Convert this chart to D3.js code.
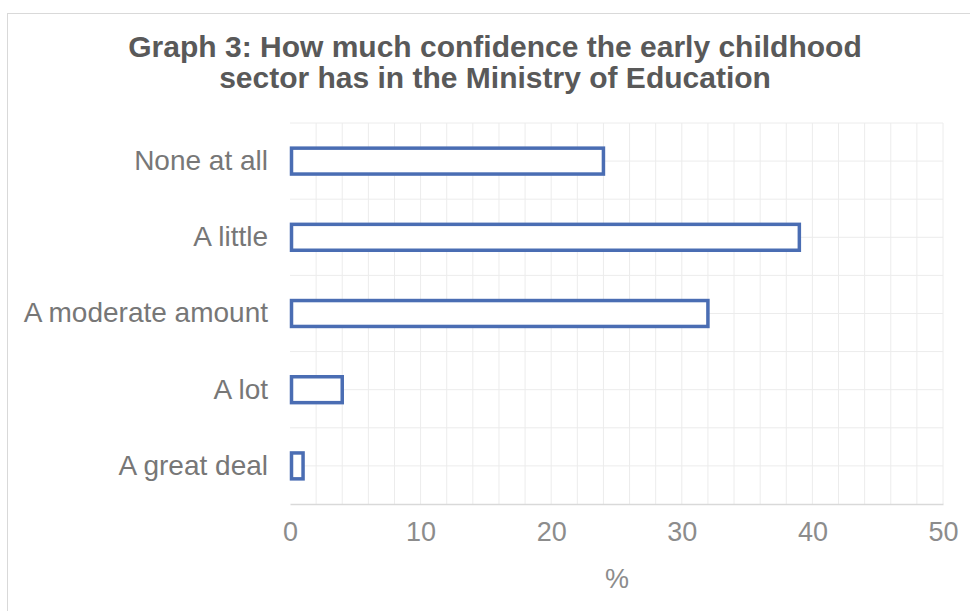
<!DOCTYPE html>
<html>
<head>
<meta charset="utf-8">
<script src="https://cdn.jsdelivr.net/npm/d3@7"></script>
<style>
  body { margin: 0; background: #fff; }
  text { font-family: "Liberation Sans", Arial, sans-serif; }
</style>
</head>
<body>
<svg id="chart" width="970" height="611"></svg>
<script>
// data
const categories = ['None at all', 'A little', 'A moderate amount', 'A lot', 'A great deal'];
const values = [24, 39, 32, 4, 1];
const xTicks = [0, 10, 20, 30, 40, 50];
const titleLines = ['Graph 3:  How much confidence the early childhood', 'sector has in the Ministry of Education'];

const svg = d3.select('#chart');
const margin = {top: 123, right: 27, bottom: 107, left: 290};
const width = 970 - margin.left - margin.right;
const height = 611 - margin.top - margin.bottom;

// outer frame of the chart
svg.append('rect')
    .attr('x', 7.5).attr('y', 13.5)
    .attr('width', 980).attr('height', 620)
    .attr('fill', '#fff')
    .attr('stroke', '#d9d9d9');

const x = d3.scaleLinear().domain([0, 50]).range([0, width]);
const y = d3.scaleBand().domain(categories).range([0, height]).paddingInner(0.66).paddingOuter(0.33);

const g = svg.append('g').attr('transform', `translate(${margin.left},${margin.top})`);

// vertical gridlines every 2
g.append('g').selectAll('line')
    .data(d3.range(2, 51, 2))
    .enter().append('line')
    .attr('x1', d => x(d)).attr('x2', d => x(d))
    .attr('y1', 0).attr('y2', height)
    .attr('stroke', '#ececec');

// horizontal gridlines at band edges and centres
const step = height / categories.length;
g.append('g').selectAll('line')
    .data(d3.range(0, categories.length * 2))
    .enter().append('line')
    .attr('x1', 0).attr('x2', width)
    .attr('y1', d => d * step / 2).attr('y2', d => d * step / 2)
    .attr('stroke', '#ececec');

// bars
g.append('g').selectAll('rect')
    .data(values)
    .enter().append('rect')
    .attr('x', 1.5)
    .attr('y', (d, i) => y(categories[i]))
    .attr('width', d => x(d) - 1.5)
    .attr('height', y.bandwidth())
    .attr('fill', '#fff')
    .attr('stroke', '#4a6db3')
    .attr('stroke-width', 3.5);

// x axis
const xAxis = g.append('g')
    .attr('transform', `translate(0,${height})`)
    .call(d3.axisBottom(x).tickValues(xTicks).tickSize(0).tickPadding(18));
xAxis.select('.domain').attr('stroke', '#d9d9d9').attr('stroke-width', 1.5);
xAxis.selectAll('text')
    .attr('fill', '#8c8c8c')
    .style('font-size', '27px');

// y axis labels
const yAxis = g.append('g')
    .call(d3.axisLeft(y).tickSize(0).tickPadding(22));
yAxis.select('.domain').remove();
yAxis.selectAll('text')
    .attr('fill', '#777')
    .style('font-size', '28px');

// axis title
svg.append('text')
    .attr('x', 617).attr('y', 588)
    .attr('text-anchor', 'middle')
    .attr('fill', '#8c8c8c')
    .style('font-size', '27px')
    .text('%');

// chart title
svg.append('g').selectAll('text')
    .data(titleLines)
    .enter().append('text')
    .attr('x', 495)
    .attr('y', (d, i) => 57 + i * 31)
    .attr('text-anchor', 'middle')
    .attr('fill', '#595959')
    .style('font-size', '30px')
    .style('font-weight', 'bold')
    .text(d => d);
</script>
</body>
</html>
